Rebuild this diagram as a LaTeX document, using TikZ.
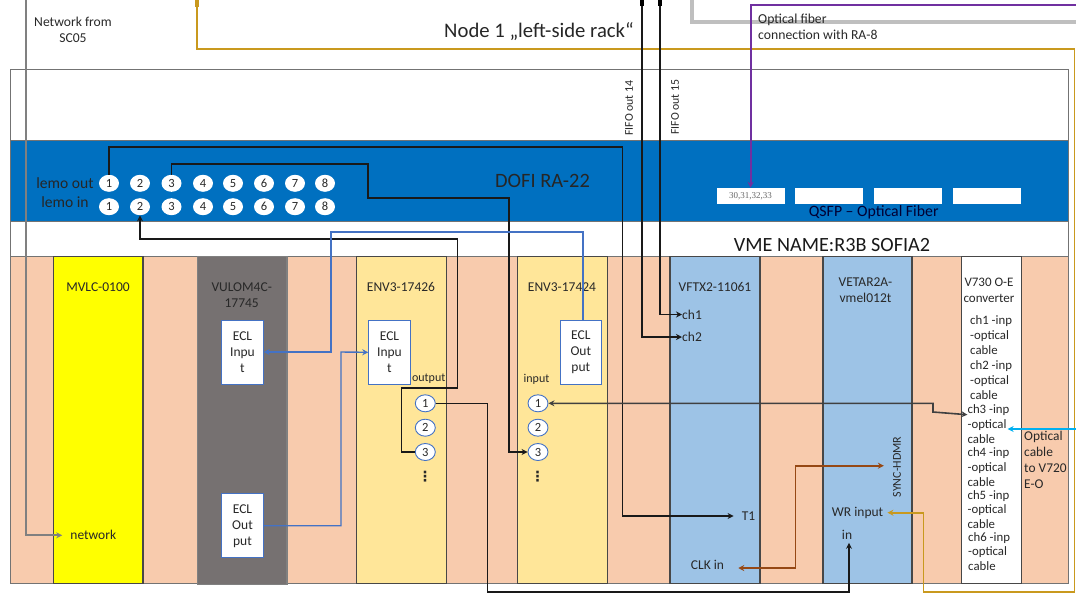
\documentclass[tikz,border=0pt]{standalone}
\usepackage{fontspec}
\setmainfont{Carlito}
\newfontfamily\qsfpfont{Liberation Serif}
\newfontfamily\dotsfont{DejaVu Sans}
\usetikzlibrary{arrows.meta, shapes.geometric}
\definecolor{slotpeach}{RGB}{248,203,173}
\definecolor{dofiblue}{RGB}{0,112,192}
\definecolor{mvlcyellow}{RGB}{255,255,0}
\definecolor{envyellow}{RGB}{255,230,153}
\definecolor{vftxblue}{RGB}{157,195,230}
\definecolor{vulomgray}{RGB}{118,113,113}
\definecolor{eclblue}{RGB}{68,114,196}
\definecolor{goldwire}{RGB}{201,153,30}
\definecolor{brownwire}{RGB}{150,72,20}
\definecolor{purplewire}{RGB}{112,48,160}
\definecolor{cyanwire}{RGB}{0,176,240}
\definecolor{textgray}{RGB}{40,40,40}
\definecolor{fibergray}{RGB}{191,191,191}
\tikzset{
    band/.style={draw=black!55, line width=1.2pt, anchor=north west, inner sep=0, minimum width=1058, outer sep=0},
    slot/.style={draw=black!72, line width=1.1pt, anchor=north west, inner sep=0, minimum height=326.5, outer sep=0},
    lab/.style={font=\fontsize{13.5}{16}\selectfont, text=textgray, inner sep=0, align=center},
    chtxt/.style={font=\fontsize{12.8}{14.6}\selectfont, text=textgray, inner sep=0, align=left, anchor=west},
    lemo/.style={ellipse, fill=white, minimum width=20, minimum height=17, inner sep=0, font=\fontsize{12.5}{13}\selectfont, text=textgray},
    pin/.style={lemo, draw=eclblue, line width=0.9pt},
    eclbox/.style={draw=eclblue, line width=1pt, fill=white, minimum width=41.5, minimum height=64, inner sep=0, font=\fontsize{13.5}{16}\selectfont, text=textgray, align=center},
    qsfp/.style={fill=white, minimum width=68, minimum height=16.5, inner sep=0, font=\qsfpfont\fontsize{9}{10}\selectfont, text=black!60},
    wire/.style={line width=1.6pt, draw=black!90, -{Stealth[length=6pt,width=6pt]}},
    bothtips/.style={{Stealth[length=6pt,width=6pt]}-{Stealth[length=6pt,width=6pt]}},
}

\begin{document}
\begin{tikzpicture}[x=1pt, y=-1pt]
    \useasboundingbox (0,0) rectangle (1076,598);

    % Rack
    \node[band, fill=white, minimum height=70.5] (rack) at (10.3,69.8) {};
    \node[band, fill=dofiblue, minimum height=81.5] (dofi) at (10.3,140.3) {};
    \node[band, fill=white, minimum height=35] (vmerow) at (10.3,221.8) {};
    \node[band, fill=slotpeach, minimum height=326.5] (crate) at (10.3,256.7) {};

    % Slots
    \node[slot, fill=mvlcyellow, minimum width=89.3] (mvlc) at (53.7,256.7) {};
    \node[slot, draw=black!50, fill=vulomgray, minimum width=89.7, minimum height=327.5] (vulom) at (197.3,256.7) {};
    \node[slot, fill=envyellow, minimum width=89.9] (envleft) at (356.4,256.7) {};
    \node[slot, fill=envyellow, minimum width=89.8] (envright) at (517.6,256.7) {};
    \node[slot, fill=vftxblue, minimum width=90] (vftx) at (670,256.7) {};
    \node[slot, fill=vftxblue, minimum width=89] (vetar) at (823,256.7) {};
    \node[slot, fill=white, minimum width=59.9] (vsevenb) at (961.5,256.7) {};

    % Slot names
    \node[lab] (mvlcname) at (98,287) {MVLC-0100};
    \node[lab] (vulomname) at (241.7,295) {VULOM4C-\\17745};
    \node[lab] (envleftname) at (401,287) {ENV3-17426};
    \node[lab] (envrightname) at (562,287) {ENV3-17424};
    \node[lab] (vftxname) at (715,287) {VFTX2-11061};
    \node[lab] (vetarname) at (865.5,290) {VETAR2A-\\vmel012t};
    \node[lab, font=\fontsize{13}{16}\selectfont] (vsevenname) at (989,290.5) {V730 O-E\\converter};

    % Titles
    \node[font=\fontsize{20.7}{24}\selectfont, text=black!85, inner sep=0] (nodetitle) at (539,32) {Node 1 „left-side rack“};
    \node[font=\fontsize{20.4}{24}\selectfont, text=black!85, inner sep=0] (dofiname) at (542.5,181) {DOFI RA-22};
    \node[font=\fontsize{20.2}{24}\selectfont, text=black!90, inner sep=0] (vmename) at (832,245) {VME NAME:R3B SOFIA2};
    \node[font=\fontsize{15.8}{18}\selectfont, text=black!80!blue, inner sep=0] (qsfpname) at (873.7,212) {QSFP – Optical Fiber};

    % Lemo connectors
    \node[font=\fontsize{15.6}{18}\selectfont, text=black!85, inner sep=0] (lemoout) at (65,183.5) {lemo out};
    \node[font=\fontsize{15.6}{18}\selectfont, text=black!85, inner sep=0] (lemoin) at (65,202.5) {lemo in};
    \foreach \n/\x in {1/109,2/140,3/171.5,4/203,5/233,6/264,7/295,8/325} {
        \node[lemo] (lout\n) at (\x,183.3) {\n};
        \node[lemo] (lin\n) at (\x,206.7) {\n};
    }

    % QSFP
    \node[qsfp] (qsfpa) at (750.6,196.2) {30,31,32,33};
    \node[qsfp] (qsfpb) at (829.2,196.2) {};
    \node[qsfp] (qsfpc) at (908.2,196.2) {};
    \node[qsfp] (qsfpd) at (987.2,196.2) {};

    % ECL boxes
    \node[eclbox] (vulomin) at (242.5,352) {ECL\\Inpu\\t};
    \node[eclbox] (vulomout) at (242.5,525.7) {ECL\\Out\\put};
    \node[eclbox] (envinbox) at (389.5,352.3) {ECL\\Inpu\\t};
    \node[eclbox] (envoutbox) at (580.8,352) {ECL\\Out\\put};

    % ENV pins
    \node[font=\fontsize{12}{14}\selectfont, text=textgray, inner sep=0] (outputlab) at (428.7,378.5) {output};
    \node[font=\fontsize{12}{14}\selectfont, text=textgray, inner sep=0] (inputlab) at (536.5,379) {input};
    \foreach \n/\y in {1/403.3,2/427.7,3/452} {
        \node[pin] (envout\n) at (425.3,\y) {\n};
        \node[pin] (envin\n) at (538,\y) {\n};
    }
    \node[lab, font=\dotsfont\bfseries\fontsize{14}{16}\selectfont] (dotsout) at (425,477) {⋮};
    \node[lab, font=\dotsfont\bfseries\fontsize{14}{16}\selectfont] (dotsin) at (537.5,477) {⋮};

    % Module ports
    \node[lab] (netport) at (93.3,535.3) {network};
    \node[lab, anchor=west] (chone) at (682,314.5) {ch1};
    \node[lab, anchor=west] (chtwo) at (682,337) {ch2};
    \node[lab] (tone) at (748.5,516) {T1};
    \node[lab] (clkin) at (707.5,565) {CLK in};
    \node[lab] (wrinput) at (857.6,512.7) {WR input};
    \node[lab] (vetarin) at (847,535) {in};
    \node[lab, rotate=90, font=\fontsize{12}{14}\selectfont] (sync) at (897,467) {SYNC-HDMR};

    % V730 channels
    \node[chtxt] (chan1) at (970,335) {ch1 -inp\\-optical\\cable};
    \node[chtxt] (chan2) at (970,380) {ch2 -inp\\-optical\\cable};
    \node[chtxt] (chan3) at (967.4,424) {ch3 -inp\\-optical\\cable};
    \node[chtxt] (chan4) at (967.4,467) {ch4 -inp\\-optical\\cable};
    \node[chtxt] (chan5) at (967.4,509.5) {ch5 -inp\\-optical\\cable};
    \node[chtxt] (chan6) at (968,551.5) {ch6 -inp\\-optical\\cable};
    \node[lab, align=left, anchor=west, font=\fontsize{13.4}{16}\selectfont] (cableto) at (1024,459.7) {Optical\\cable\\to V720\\E-O};

    % Free ends
    \coordinate (nettop) at (25.5,0);
    \coordinate (goldtop) at (197,0);
    \coordinate (goldstub) at (197,7);
    \coordinate (goldcorner) at (1074.4,48.7);
    \coordinate (goldlow) at (923.6,592);
    \coordinate (fifoa) at (642,0);
    \coordinate (fifoastub) at (642,6);
    \coordinate (fifob) at (660,0);
    \coordinate (fifobstub) at (660,6);
    \coordinate (fibertop) at (692,0);
    \coordinate (fiberend) at (1076,22);
    \coordinate (purpleend) at (1076,5);
    \coordinate (cyanend) at (1076,429);
    \coordinate (toneturn) at (622.4,146.7);
    \coordinate (threea) at (367.8,164);
    \coordinate (threeb) at (509,197.7);
    \coordinate (twoa) at (401.5,388);
    \coordinate (twob) at (457.3,238.7);
    \coordinate (bluetop) at (331,232);
    \coordinate (bluemid) at (341,352);
    \coordinate (lowa) at (487.6,592);
    \coordinate (stepa) at (933,412);
    \coordinate (brownbend) at (795.4,465.7);

    % Cables
    \draw[fibergray, line width=3.4pt] (fibertop) |- (fiberend);
    \draw[wire, draw=black!50, line width=2pt, shorten >=8pt] (nettop) |- (netport.west);
    \draw[wire, draw=goldwire, line width=1.7pt, shorten >=4pt] (goldtop) |- (goldcorner) |- (goldlow) |- (wrinput.east);
    \draw[goldwire, line width=3.5pt] (goldtop) -- (goldstub);
    \draw[wire, line width=1.9pt] (fifoa) |- (chtwo.west);
    \draw[wire, line width=1.9pt] (fifob) |- (chone.west);
    \draw[line width=3.5pt] (fifoa) -- (fifoastub);
    \draw[line width=3.5pt] (fifob) -- (fifobstub);
    \draw[wire, draw=purplewire, line width=1.8pt] (purpleend) -| (qsfpa.north);
    \draw[wire, shorten >=8pt] (lout1.north) |- (toneturn) |- (tone.west);
    \draw[wire] (lout3.north) |- (threea) |- (threeb) |- (envin3.west);
    \draw[wire] (envout3.west) -| (twoa) -| (twob) -| (lin2.south);
    \draw[wire, draw=eclblue, line width=1.4pt] ([xshift=2pt]envoutbox.north) |- (bluetop) |- (vulomin.east);
    \draw[wire, draw=eclblue, line width=1.4pt] (vulomout.east) -| (bluemid) -- (envinbox.west);
    \draw[wire, shorten >=3pt] (envout1.east) -| (lowa) -| ([xshift=2pt]vetarin.south);
    \draw[wire, draw=black!75, bothtips] (envin1.east) -| (stepa) -- ([yshift=-10pt]chan3.north west);
    \draw[wire, draw=brownwire, bothtips, shorten <=14pt, shorten >=9pt] ([yshift=-3pt]clkin.east) -| (brownbend) -- (sync.north |- brownbend);
    \draw[wire, draw=cyanwire, line width=1.8pt, shorten >=-2pt] (cyanend) -- ([yshift=-5pt]chan3.east);

    % Free labels
    \node[lab, font=\fontsize{13.6}{16}\selectfont] (networklab) at (73,30) {Network from\\SC05};
    \node[lab, align=left, anchor=west, font=\fontsize{13.7}{16}\selectfont] (fiberlab) at (758,27) {Optical fiber\\connection with RA-8};
    \node[lab, rotate=90, font=\fontsize{11.8}{13}\selectfont] (fifolaba) at (629,108) {FIFO out 14};
    \node[lab, rotate=90, font=\fontsize{11.8}{13}\selectfont] (fifolabb) at (675,107) {FIFO out 15};
\end{tikzpicture}
\end{document}
